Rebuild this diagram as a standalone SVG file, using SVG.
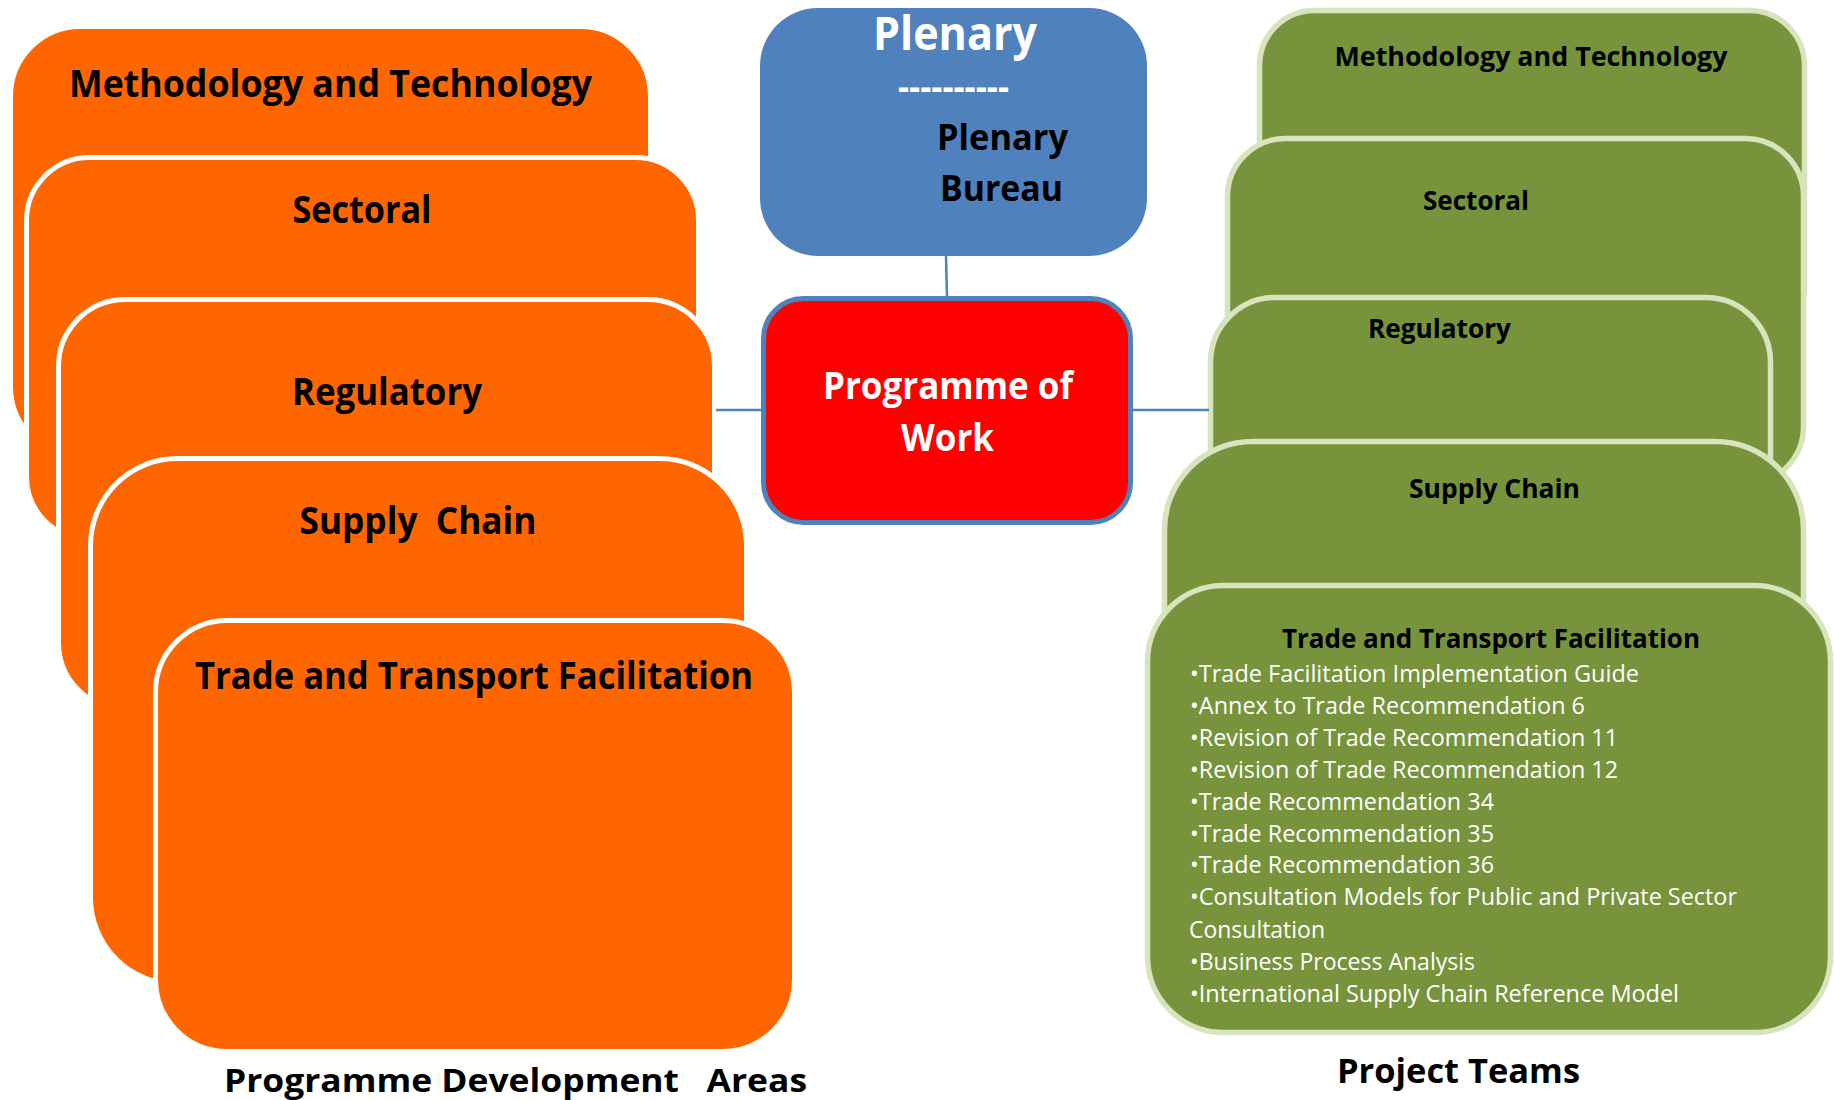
<svg xmlns="http://www.w3.org/2000/svg" width="1834" height="1100" viewBox="0 0 1834 1100">
<style>
.t{font-family:"Open Sans","Noto Sans","DejaVu Sans",sans-serif;font-weight:700;text-anchor:middle;fill:#000}
.w{fill:#fff}
.bl{font-family:"Open Sans","Noto Sans","DejaVu Sans",sans-serif;font-weight:400;font-size:24px;fill:#fff}
.or{fill:#FF6600;stroke:#fff;stroke-width:5}
.gr{fill:#77933C;stroke:#D7E4BD;stroke-width:5.5}
.cn{stroke:#4F81BD;stroke-width:2.5;fill:none}
</style>
<rect width="1834" height="1100" fill="#fff"/>

<!-- Left stack: Programme Development Areas -->
<g id="pda-methodology">
<rect class="or" x="10.5" y="26.5" width="640" height="430" rx="70"/>
<text class="t" x="330.5" y="97" font-size="37" textLength="523" lengthAdjust="spacingAndGlyphs">Methodology and Technology</text>
</g>
<g id="pda-sectoral">
<rect class="or" x="26.5" y="157.5" width="672" height="382" rx="63"/>
<text class="t" x="362" y="223" font-size="37" textLength="139" lengthAdjust="spacingAndGlyphs">Sectoral</text>
</g>
<g id="pda-regulatory">
<rect class="or" x="58.5" y="299.5" width="656" height="410" rx="67"/>
<text class="t" x="387" y="405" font-size="37" textLength="190" lengthAdjust="spacingAndGlyphs">Regulatory</text>
</g>
<g id="pda-supply-chain">
<rect class="or" x="90.5" y="458.5" width="656" height="526" rx="87"/>
<text class="t" x="418" y="534" font-size="37" textLength="237" lengthAdjust="spacingAndGlyphs" xml:space="preserve">Supply  Chain</text>
</g>
<g id="pda-trade">
<rect class="or" x="155.5" y="620.5" width="639" height="431" rx="72"/>
<text class="t" x="474" y="689" font-size="37" textLength="558" lengthAdjust="spacingAndGlyphs">Trade and Transport Facilitation</text>
</g>
<g id="label-pda">
<text class="t" x="515.5" y="1092" font-size="33" textLength="583" lengthAdjust="spacingAndGlyphs" xml:space="preserve">Programme Development   Areas</text>
</g>

<!-- Right stack: Project Teams -->
<g id="pt-methodology">
<rect class="gr" x="1259.5" y="10.5" width="545" height="330" rx="55" stroke="#EEECE1"/>
<text class="t" x="1531" y="66" font-size="27.5" textLength="393" lengthAdjust="spacingAndGlyphs">Methodology and Technology</text>
</g>
<g id="pt-sectoral">
<rect class="gr" x="1227.5" y="138.5" width="576" height="346" rx="58"/>
<text class="t" x="1476" y="210" font-size="27.5" textLength="106" lengthAdjust="spacingAndGlyphs">Sectoral</text>
</g>
<g id="pt-regulatory">
<rect class="gr" x="1210.5" y="297.5" width="560" height="400" rx="65"/>
<text class="t" x="1439.5" y="337.5" font-size="27.5" textLength="143" lengthAdjust="spacingAndGlyphs">Regulatory</text>
</g>
<g id="pt-supply-chain">
<rect class="gr" x="1164.5" y="441.5" width="639" height="536" rx="88"/>
<text class="t" x="1494.5" y="498" font-size="27.5" textLength="171" lengthAdjust="spacingAndGlyphs">Supply Chain</text>
</g>
<g id="pt-trade">
<rect class="gr" x="1147.5" y="585.5" width="683" height="447" rx="76"/>
<text class="t" x="1491" y="648" font-size="27.5" textLength="418" lengthAdjust="spacingAndGlyphs">Trade and Transport Facilitation</text>
<text class="bl" x="1190" y="682" textLength="449" lengthAdjust="spacingAndGlyphs">•Trade Facilitation Implementation Guide</text>
<text class="bl" x="1190" y="714" textLength="395" lengthAdjust="spacingAndGlyphs">•Annex to Trade Recommendation 6</text>
<text class="bl" x="1190" y="746" textLength="428" lengthAdjust="spacingAndGlyphs">•Revision of Trade Recommendation 11</text>
<text class="bl" x="1190" y="778" textLength="428" lengthAdjust="spacingAndGlyphs">•Revision of Trade Recommendation 12</text>
<text class="bl" x="1190" y="810" textLength="304" lengthAdjust="spacingAndGlyphs">•Trade Recommendation 34</text>
<text class="bl" x="1190" y="842" textLength="304" lengthAdjust="spacingAndGlyphs">•Trade Recommendation 35</text>
<text class="bl" x="1190" y="873" textLength="304" lengthAdjust="spacingAndGlyphs">•Trade Recommendation 36</text>
<text class="bl" x="1190" y="905" textLength="547" lengthAdjust="spacingAndGlyphs">•Consultation Models for Public and Private Sector</text>
<text class="bl" x="1189" y="938" textLength="136" lengthAdjust="spacingAndGlyphs">Consultation</text>
<text class="bl" x="1190" y="970" textLength="285" lengthAdjust="spacingAndGlyphs">•Business Process Analysis</text>
<text class="bl" x="1190" y="1001.5" textLength="489" lengthAdjust="spacingAndGlyphs">•International Supply Chain Reference Model</text>
</g>
<g id="label-pt">
<text class="t" x="1458.5" y="1083" font-size="34" textLength="243" lengthAdjust="spacingAndGlyphs">Project Teams</text>
</g>

<!-- Connectors -->
<g id="connectors">
<line class="cn" x1="946" y1="256" x2="947" y2="297"/>
<line class="cn" x1="716" y1="410" x2="762" y2="410"/>
<line class="cn" x1="1132" y1="410" x2="1209" y2="410"/>
</g>

<!-- Centre -->
<g id="plenary">
<rect x="760" y="8" width="387" height="248" rx="58" fill="#4F81BD"/>
<text class="t w" x="955" y="50" font-size="46" textLength="164" lengthAdjust="spacingAndGlyphs">Plenary</text>
<text class="t w" x="953.5" y="99" font-size="36" textLength="111" lengthAdjust="spacingAndGlyphs">----------</text>
<text class="t" x="1002.5" y="150" font-size="36" textLength="131" lengthAdjust="spacingAndGlyphs">Plenary</text>
<text class="t" x="1001.5" y="201" font-size="36" textLength="123" lengthAdjust="spacingAndGlyphs">Bureau</text>
</g>
<g id="programme-of-work">
<rect x="763.5" y="298.5" width="367" height="224" rx="40" fill="#FF0000" stroke="#4F81BD" stroke-width="5"/>
<text class="t w" x="948" y="399" font-size="37" textLength="250" lengthAdjust="spacingAndGlyphs">Programme of</text>
<text class="t w" x="947.5" y="451" font-size="37" textLength="93" lengthAdjust="spacingAndGlyphs">Work</text>
</g>
</svg>
